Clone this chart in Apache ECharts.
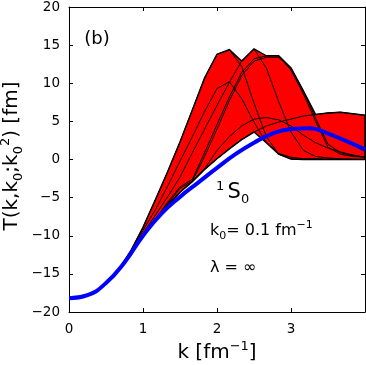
<!DOCTYPE html>
<html>
<head>
<meta charset="utf-8">
<script src="https://cdn.jsdelivr.net/npm/echarts@6/dist/echarts.min.js"></script>
<style>
  html, body { margin: 0; padding: 0; background: #fff; }
  #echarts { width: 366px; height: 365px; }
</style>
</head>
<body>
<div id="echarts"></div>
<script>
// k grid of the band curves (fm^-1)
var kGrid = [0.667, 0.833, 1.0, 1.167, 1.333, 1.5, 1.667, 1.833, 2.0, 2.167, 2.333,
             2.5, 2.667, 2.833, 3.0, 3.167, 3.333, 3.5, 3.667, 3.833, 4.0];
// black curves inside the red band
var curveA = [-14.5, -12.0, -8.9, -5.3, -1.6, 2.3, 6.5, 10.7, 13.8, 14.4, 12.2, 7.4, 3.0, 0.7, 0.05, 0, 0, 0, 0, 0, 0];
var curveB = [-14.5, -12.2, -9.7, -7.3, -4.9, -2.3, 0.9, 4.0, 7.1, 10.1, 12.9, 14.5, 12.0, 7.6, 3.6, 1.2, 0.4, 0.2, 0.1, 0.05, 0];
var curveC1 = [-14.5, -12.3, -10.0, -7.8, -5.6, -3.6, -2.6, 0.9, 4.6, 8.2, 11.4, 13.2, 13.6, 13.6, 11.7, 8.6, 5.0, 1.6, 0.7, 0.4, 0.3];
var curveC2 = [-14.5, -12.3, -10.0, -7.9, -5.8, -3.8, -2.8, 0.4, 4.0, 7.7, 11.0, 12.9, 13.4, 13.4, 12.0, 9.0, 5.4, 2.0, 0.9, 0.5, 0.3];
var curveD = [-14.5, -12.1, -9.3, -6.6, -3.5, -0.2, 3.0, 6.3, 9.3, 10.2, 8.0, 4.9, 2.2, 0.8, 0.3, 0.1, 0.1, 0.05, 0, 0, 0];
var curveE = [-14.5, -12.4, -10.1, -8.0, -6.0, -4.3, -2.9, -1.2, 1.2, 3.0, 4.4, 5.3, 5.5, 5.2, 4.4, 3.2, 2.2, 1.5, 1.0, 0.6, 0.3];
var curveF = [-14.5, -12.4, -10.1, -8.0, -6.0, -4.3, -2.8, -1.3, 0.1, 1.4, 2.6, 3.6, 4.4, 4.9, 5.3, 5.7, 5.9, 6.1, 6.2, 6.0, 5.8];
// blue curve (lambda = infinity)
var blueK = [0, 0.25, 0.5, 0.75, 1.0, 1.25, 1.5, 1.75, 2.0, 2.25, 2.5, 2.75, 3.0, 3.25, 3.5, 3.75, 4.0];
var blueT = [-18.2, -17.8, -16.2, -13.5, -10.0, -7.1, -4.9, -3.0, -1.1, 0.7, 2.2, 3.4, 4.0, 4.1, 3.4, 2.4, 1.3];
// axis ticks
var xTicks = [0, 1, 2, 3, 4];
var yTicks = [-20, -15, -10, -5, 0, 5, 10, 15, 20];

var curves = [curveA, curveB, curveC1, curveC2, curveD, curveE, curveF];

function pairs(xs, ys){
  var out = [];
  for (var i = 0; i < xs.length; i++) out.push([xs[i], ys[i]]);
  return out;
}

// envelope of the curves -> red band
var lower = [], upper = [], bandData = [];
for (var i = 0; i < kGrid.length; i++) {
  var lo = Infinity, hi = -Infinity;
  curves.forEach(function(c){
    if (c[i] < lo) lo = c[i];
    if (c[i] > hi) hi = c[i];
  });
  lower.push(lo);
  upper.push(hi);
  bandData.push([kGrid[i], lo, hi]);
}

// whole band as one polygon (drawn once, on the first item)
function renderBand(params, api){
  if (params.dataIndex !== 0) return null;
  var pts = [];
  for (var i = 0; i < kGrid.length; i++) pts.push(api.coord([kGrid[i], upper[i]]));
  for (var j = kGrid.length - 1; j >= 0; j--) pts.push(api.coord([kGrid[j], lower[j]]));
  return {
    type: 'polygon',
    shape: { points: pts },
    style: { fill: '#ff0000', stroke: '#000', lineWidth: 1.5 }
  };
}

var FONT = 'DejaVu Sans';
function minus(v){ return String(v).replace('-', '\u2212'); }

var series = [];
series.push({
  type: 'custom', renderItem: renderBand, data: bandData,
  encode: { x: 0, y: [1, 2] }, clip: true, z: 2
});
curves.forEach(function(c){
  series.push({
    type: 'line', data: pairs(kGrid, c), showSymbol: false,
    lineStyle: { color: '#000', width: 1 }, z: 3
  });
});
series.push({
  type: 'line', data: pairs(blueK, blueT), showSymbol: false, smooth: true,
  lineStyle: { color: '#0000ff', width: 4 }, z: 5
});

function axisBase(){
  return {
    type: 'value',
    axisLine: { show: true, onZero: false, lineStyle: { color: '#000', width: 1 } },
    axisTick: { show: true, inside: true, length: 4, lineStyle: { color: '#000' } },
    splitLine: { show: false }
  };
}
var x0 = axisBase(), x1 = axisBase(), y0 = axisBase(), y1 = axisBase();
x0.min = xTicks[0]; x0.max = xTicks[xTicks.length - 1]; x0.interval = 1; x0.position = 'bottom';
x0.axisLabel = { color: '#000', fontFamily: FONT, fontSize: 13.5, margin: 10, showMaxLabel: false };
x1.min = x0.min; x1.max = x0.max; x1.interval = 1; x1.position = 'top'; x1.axisLabel = { show: false };
y0.min = yTicks[0]; y0.max = yTicks[yTicks.length - 1]; y0.interval = 5; y0.position = 'left';
y0.axisLabel = { color: '#000', fontFamily: FONT, fontSize: 13.5, margin: 9, formatter: minus };
y1.min = y0.min; y1.max = y0.max; y1.interval = 5; y1.position = 'right'; y1.axisLabel = { show: false };

var sub = { fontFamily: FONT, fontSize: 13, verticalAlign: 'bottom', lineHeight: 13, fill: '#000' };
var sup = { fontFamily: FONT, fontSize: 13, verticalAlign: 'top', lineHeight: 13, fill: '#000' };

var option = {
  animation: false,
  backgroundColor: '#fff',
  grid: { left: 69, top: 6, right: 1, bottom: 53 },
  xAxis: [x0, x1],
  yAxis: [y0, y1],
  series: series,
  graphic: [{
    type: 'text', x: 97, y: 39,
    style: { text: '(b)', fontFamily: FONT, fontSize: 18, fill: '#000', align: 'center', verticalAlign: 'middle' }
  }, {
    type: 'text', x: 216, y: 193,
    style: {
      text: '{p|1} {m|S}{b|0}', align: 'left', verticalAlign: 'middle',
      rich: {
        m: { fontFamily: FONT, fontSize: 21, lineHeight: 26, fill: '#000' },
        p: sup, b: sub
      }
    }
  }, {
    type: 'text', x: 210, y: 231,
    style: {
      text: '{m|k}{b|0}{m|= 0.1 fm}{p|\u22121}', align: 'left', verticalAlign: 'middle',
      rich: {
        m: { fontFamily: FONT, fontSize: 16, lineHeight: 22, fill: '#000' },
        p: { fontFamily: FONT, fontSize: 11, verticalAlign: 'top', lineHeight: 11, fill: '#000' },
        b: { fontFamily: FONT, fontSize: 11, verticalAlign: 'bottom', lineHeight: 11, fill: '#000' }
      }
    }
  }, {
    type: 'text', x: 210, y: 268,
    style: { text: '\u03bb = \u221e', fontFamily: FONT, fontSize: 16, fill: '#000', align: 'left', verticalAlign: 'middle' }
  }, {
    type: 'text', x: 217, y: 353,
    style: {
      text: '{m|k [fm}{p|\u22121}{m|]}', align: 'center', verticalAlign: 'middle',
      rich: {
        m: { fontFamily: FONT, fontSize: 20, lineHeight: 26, fill: '#000' },
        p: { fontFamily: FONT, fontSize: 13, verticalAlign: 'top', lineHeight: 13, fill: '#000' }
      }
    }
  }, {
    type: 'text', x: 12, y: 156, rotation: Math.PI / 2,
    style: {
      text: '{m|T(k,k}{b|0}{m|;k}{b|0}{p|2}{m|) [fm]}', align: 'center', verticalAlign: 'middle',
      rich: {
        m: { fontFamily: FONT, fontSize: 20, lineHeight: 26, fill: '#000' },
        p: sup, b: sub
      }
    }
  }]
};

var chart = echarts.init(document.getElementById('echarts'));
chart.setOption(option);
</script>
</body>
</html>
